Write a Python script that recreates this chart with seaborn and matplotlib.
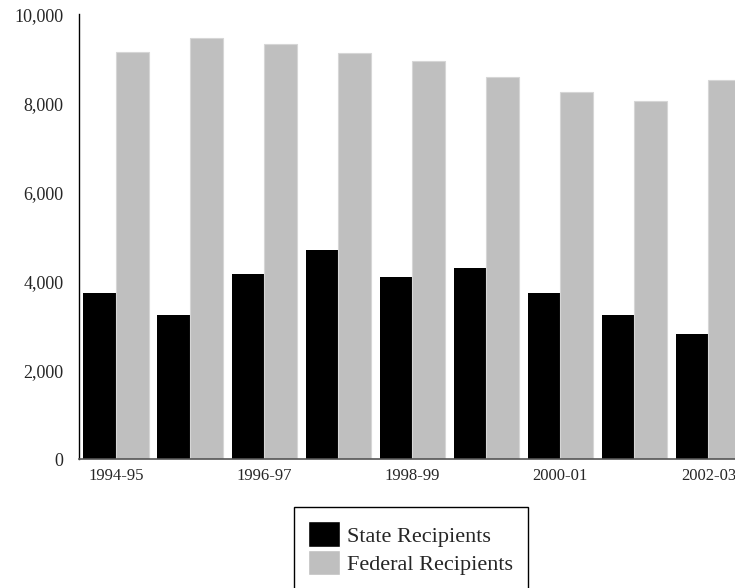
import matplotlib
matplotlib.use('Agg')
import matplotlib.pyplot as plt
import pandas as pd
import seaborn as sb

# Значения
years = ['1994-95', '1995-96', '1996-97', '1997-98', '1998-99',
         '1999-00', '2000-01', '2001-02', '2002-03']
state = [3730, 3240, 4170, 4690, 4100, 4290, 3730, 3240, 2820]
federal = [9150, 9460, 9330, 9130, 8950, 8580, 8240, 8050, 8530]
series = ['State Recipients', 'Federal Recipients']
colours = ['#000000', '#bfbfbf']
shown_years = ['1994-95', '1996-97', '1998-99', '2000-01', '2002-03']
y_ticks = [0, 2000, 4000, 6000, 8000, 10000]

data = pd.DataFrame({
    'Year': years * 2,
    'Recipients': state + federal,
    'Type': [series[0]] * len(years) + [series[1]] * len(years),
})

sb.set_style('white')
plt.rcParams['font.family'] = ['Liberation Serif', 'DejaVu Serif']

fig = plt.figure(figsize=(7.35, 5.88), dpi=100)
ax = fig.add_axes([0.1075, 0.219, 0.8925, 0.757])

Bars = sb.barplot(data=data, x='Year', y='Recipients', hue='Type',
                  order=years, hue_order=series, palette=colours,
                  width=0.88, saturation=1, errorbar=None, ax=ax)
for patch in ax.containers[0]:
    patch.set_linewidth(0)
for patch in ax.containers[1]:
    patch.set_edgecolor('#d6d6d6')
    patch.set_linewidth(0.8)

ax.set_xlim(-0.5, 8.36)
ax.set_ylim(0, 10000)
ax.set_yticks(y_ticks)
ax.set_yticklabels(['{:,}'.format(v) for v in y_ticks], fontsize=13)
ax.set_xticks([years.index(y) for y in shown_years])
ax.set_xticklabels(shown_years, fontsize=12)
ax.tick_params(axis='both', length=0)
ax.tick_params(axis='y', pad=11)
ax.tick_params(axis='x', pad=6)
ax.set_xlabel('')
ax.set_ylabel('')

for side in ['top', 'right']:
    ax.spines[side].set_visible(False)
ax.spines['left'].set_color('black')
ax.spines['left'].set_linewidth(1.0)
ax.spines['bottom'].set_color('#555555')
ax.spines['bottom'].set_linewidth(1.2)

handles, labels = ax.get_legend_handles_labels()
ax.get_legend().remove()
leg = fig.legend(handles, labels, loc='upper center',
                 bbox_to_anchor=(0.559, 0.138), frameon=True,
                 fancybox=False, edgecolor='black', framealpha=1,
                 fontsize=16, handlelength=1.44, handleheight=1.4,
                 handletextpad=0.32, labelspacing=0.12, borderpad=0.65,
                 borderaxespad=0)
leg.get_frame().set_linewidth(1.0)

fig.savefig('out.png', dpi=100)
